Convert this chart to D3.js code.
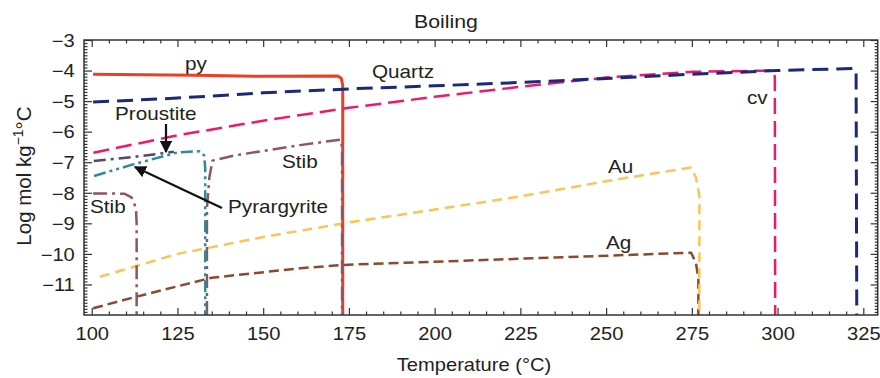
<!DOCTYPE html>
<html>
<head>
<meta charset="utf-8">
<script src="https://cdn.jsdelivr.net/npm/d3@7"></script>
<style>
  body { margin: 0; background: #fff; }
  text { font-family: "Liberation Sans", Arial, sans-serif; fill: #222; }
</style>
</head>
<body>
<svg id="chart" width="880" height="378"></svg>
<script>
// [temperature °C, log mol kg-1 °C]
const py = [[100.4, -4.12], [130, -4.15], [150, -4.19], [171.8, -4.18], [172.8, -4.26], [173.2, -4.5], [173.2, -12]];
const quartz = [[100.4, -5.03], [125, -4.9], [150, -4.73], [175, -4.6], [200, -4.5], [225, -4.39], [250, -4.26],
  [275, -4.12], [300, -4.0], [322.6, -3.93], [322.9, -4.1], [323.1, -12]];
const cv = [[100.5, -6.69], [125, -6.12], [150, -5.64], [175, -5.22], [200, -4.86], [225, -4.53],
  [250, -4.23], [275, -4.04], [298.6, -4.0], [299.2, -4.2], [299.3, -12]];
const proustite = [[100.6, -6.96], [112, -6.83], [124, -6.66]];
const pyrargyrite = [[100.7, -7.45], [111.8, -7.08], [125, -6.68], [131.5, -6.64], [132.8, -6.78], [133.1, -7.2], [133.1, -12]];
const stibLow = [[100.4, -8.02], [109.5, -8.03], [111.6, -8.15], [112.9, -8.5], [113.1, -9], [113.1, -12]];
const stibHigh = [[133.6, -12], [133.6, -8.5], [134.3, -7.5], [135.2, -6.95], [141.5, -6.78], [160.8, -6.44],
  [172.6, -6.26], [173.0, -6.5], [173.0, -12]];
const au = [[102.4, -10.75], [125, -10.0], [150, -9.45], [175, -8.97], [200, -8.55], [225, -8.12], [250, -7.62],
  [274.8, -7.17], [276.2, -7.5], [277.2, -8.1], [277.2, -12]];
const ag = [[100.4, -11.78], [113, -11.4], [132.5, -10.85], [135, -10.78], [160.8, -10.47], [173.4, -10.36],
  [242.5, -10.09], [274.8, -9.96], [276.2, -10.3], [276.9, -10.8], [276.9, -12]];

const xTicks = [100, 125, 150, 175, 200, 225, 250, 275, 300, 325];
const yTicks = [-11, -10, -9, -8, -7, -6, -5, -4, -3];

const labels = [
  { text: 'py', x: 185, y: 70 },
  { text: 'Quartz', x: 372, y: 78 },
  { text: 'cv', x: 747, y: 104 },
  { text: 'Proustite', x: 115, y: 120 },
  { text: 'Stib', x: 282, y: 168 },
  { text: 'Stib', x: 90, y: 213 },
  { text: 'Pyrargyrite', x: 228, y: 213 },
  { text: 'Au', x: 608, y: 173 },
  { text: 'Ag', x: 606, y: 249 }
];

const series = [
  { data: ag, color: '#8b4a2c', dash: '10,5', width: 2.5 },
  { data: au, color: '#fcc455', dash: '10,6', width: 2.5 },
  { data: py, color: '#f23c22', dash: null, width: 3 },
  { data: stibLow, color: '#8e5466', dash: '14,5,3,5', width: 2.5 },
  { data: stibHigh, color: '#8e5466', dash: '14,5,3,5', width: 2.5 },
  { data: proustite, color: '#54466e', dash: '12,5,3,5', width: 2.5 },
  { data: pyrargyrite, color: '#2f8a9c', dash: '12,4,3,4,3,4', width: 2.5 },
  { data: cv, color: '#f0186a', dash: '16,7', width: 2.5 },
  { data: quartz, color: '#1b2a78', dash: '16,8', width: 3 }
];

const sx = 1.15;
const plot = { left: 84, right: 877.7, top: 40, bottom: 315 };
const x = d3.scaleLinear().domain([97.75, 329.2]).range([plot.left, plot.right]);
const y = d3.scaleLinear().domain([-12, -3]).range([plot.bottom, plot.top]);

const svg = d3.select('#chart');

const defs = svg.append('defs');
defs.append('clipPath').attr('id', 'clip')
  .append('rect')
  .attr('x', plot.left).attr('y', plot.top)
  .attr('width', plot.right - plot.left).attr('height', plot.bottom - plot.top);
defs.append('marker')
  .attr('id', 'arrow')
  .attr('viewBox', '0 0 10 10')
  .attr('refX', 9).attr('refY', 5)
  .attr('markerWidth', 5.5).attr('markerHeight', 5.5)
  .attr('orient', 'auto')
  .append('path')
  .attr('d', 'M0,0 L10,5 L0,10 z')
  .attr('fill', '#111');

const line = d3.line().x(d => x(d[0])).y(d => y(d[1]));

const lines = svg.append('g').attr('clip-path', 'url(#clip)');
series.forEach(s => {
  lines.append('path')
    .attr('d', line(s.data))
    .attr('fill', 'none')
    .attr('stroke', s.color)
    .attr('stroke-width', s.width)
    .attr('stroke-dasharray', s.dash)
    .attr('stroke-linejoin', 'round');
});

// axes: inward ticks on all four sides
const minorX = d3.range(100, 330, 5).filter(v => v % 25 !== 0);
const minorY = d3.range(-120, -29, 1).map(v => v / 10).filter(v => v % 1 !== 0);

const addAxis = (axis, transform) => {
  const g = svg.append('g').attr('transform', transform).call(axis);
  g.select('.domain').remove();
  g.selectAll('line').attr('stroke', '#333').attr('stroke-width', 1.2);
  return g;
};

addAxis(d3.axisBottom(x).tickValues(minorX).tickSize(-3.5).tickFormat(''), `translate(0,${plot.bottom})`);
addAxis(d3.axisTop(x).tickValues(minorX).tickSize(-3.5).tickFormat(''), `translate(0,${plot.top})`);
addAxis(d3.axisTop(x).tickValues(xTicks).tickSize(-7).tickFormat(''), `translate(0,${plot.top})`);
addAxis(d3.axisLeft(y).tickValues(minorY).tickSize(-3.5).tickFormat(''), `translate(${plot.left},0)`);
addAxis(d3.axisRight(y).tickValues(minorY).tickSize(-3).tickFormat(''), `translate(${plot.right},0)`);
addAxis(d3.axisRight(y).tickValues(yTicks).tickSize(-7).tickFormat(''), `translate(${plot.right},0)`);

const xAxis = addAxis(d3.axisBottom(x).tickValues(xTicks).tickSize(-7).tickFormat(d3.format('d')),
  `translate(0,${plot.bottom})`);
xAxis.selectAll('text')
  .attr('y', 25).attr('dy', 0)
  .attr('font-size', 17.5)
  .attr('transform', `scale(${sx},1)`);

const yAxis = addAxis(d3.axisLeft(y).tickValues(yTicks).tickSize(-8).tickFormat(d3.format('d')),
  `translate(${plot.left},0)`);
yAxis.selectAll('text')
  .attr('x', -8).attr('dy', '0.36em')
  .attr('font-size', 17.5)
  .attr('transform', `scale(${sx},1)`);

svg.append('rect')
  .attr('x', plot.left).attr('y', plot.top)
  .attr('width', plot.right - plot.left).attr('height', plot.bottom - plot.top)
  .attr('fill', 'none').attr('stroke', '#333').attr('stroke-width', 1.5);

const addText = (str, px, py, size, anchor) => svg.append('g')
  .attr('transform', `translate(${px},${py}) scale(${sx},1)`)
  .append('text')
  .attr('text-anchor', anchor || 'start')
  .attr('font-size', size)
  .text(str);

addText('Boiling', 446, 28, 18.5, 'middle');
addText('Temperature (°C)', 474, 371, 17.5, 'middle');

const yTitle = svg.append('text')
  .attr('transform', 'translate(31,176) rotate(-90)')
  .attr('text-anchor', 'middle')
  .attr('font-size', 20.5);
yTitle.append('tspan').text('Log mol kg');
yTitle.append('tspan').attr('font-size', 14).attr('dy', -8).text('−1');
yTitle.append('tspan').attr('dy', 8).text('°C');

labels.forEach(l => addText(l.text, l.x, l.y, 18));

// annotation arrows
svg.append('line')
  .attr('x1', 166).attr('y1', 124).attr('x2', 166).attr('y2', 152)
  .attr('stroke', '#111').attr('stroke-width', 2.2)
  .attr('marker-end', 'url(#arrow)');
svg.append('line')
  .attr('x1', 222).attr('y1', 208).attr('x2', 135).attr('y2', 167)
  .attr('stroke', '#111').attr('stroke-width', 2.2)
  .attr('marker-end', 'url(#arrow)');
</script>
</body>
</html>
